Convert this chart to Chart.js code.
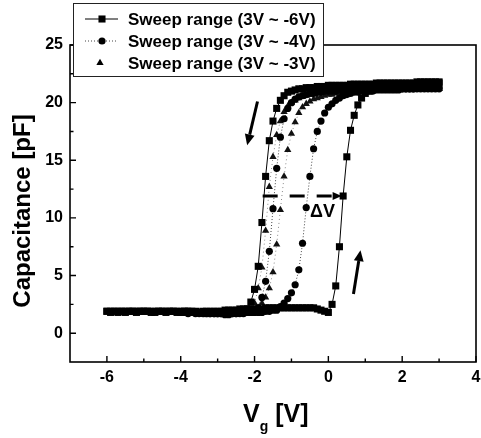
<!DOCTYPE html>
<html>
<head>
<meta charset="utf-8">
<script src="https://cdn.jsdelivr.net/npm/chart.js@4.4.1/dist/chart.umd.min.js"></script>
<style>
  html, body { margin: 0; padding: 0; background: #fff; }
  #wrap { width: 481px; height: 438px; }
</style>
</head>
<body>
<div id="wrap"><canvas id="myChart" width="481" height="438"></canvas></div>
<script>
// gate voltage grid, 0.1 V steps (index 0 = -6.0 V)
var vg = [
  -6.0,-5.9,-5.8,-5.7,-5.6,-5.5,-5.4,-5.3,-5.2,-5.1,
  -5.0,-4.9,-4.8,-4.7,-4.6,-4.5,-4.4,-4.3,-4.2,-4.1,
  -4.0,-3.9,-3.8,-3.7,-3.6,-3.5,-3.4,-3.3,-3.2,-3.1,
  -3.0,-2.9,-2.8,-2.7,-2.6,-2.5,-2.4,-2.3,-2.2,-2.1,
  -2.0,-1.9,-1.8,-1.7,-1.6,-1.5,-1.4,-1.3,-1.2,-1.1,
  -1.0,-0.9,-0.8,-0.7,-0.6,-0.5,-0.4,-0.3,-0.2,-0.1,
   0.0, 0.1, 0.2, 0.3, 0.4, 0.5, 0.6, 0.7, 0.8, 0.9,
   1.0, 1.1, 1.2, 1.3, 1.4, 1.5, 1.6, 1.7, 1.8, 1.9,
   2.0, 2.1, 2.2, 2.3, 2.4, 2.5, 2.6, 2.7, 2.8, 2.9, 3.0
];

// sweep 3V ~ -6V (starts at -6.0 V)
var sqDown = [
  1.9,1.9,1.9,1.8,1.9,1.9,1.9,1.9,1.8,1.9,
  1.9,1.9,1.8,1.9,1.9,1.9,1.8,1.9,1.9,1.9,
  1.8,1.9,1.9,1.8,1.8,1.8,1.8,1.7,1.8,1.8,
  1.7,1.8,1.7,1.7,1.8,1.8,1.8,1.9,2.1,2.7,
  3.8,5.8,9.6,13.6,16.7,18.4,19.5,20.2,20.6,20.9,
  21.0,21.1,21.2,21.2,21.3,21.3,21.3,21.4,21.4,21.4,
  21.5,21.5,21.5,21.5,21.5,21.5,21.6,21.6,21.6,21.6,
  21.6,21.6,21.6,21.7,21.7,21.7,21.7,21.7,21.7,21.7,
  21.7,21.7,21.7,21.7,21.8,21.8,21.8,21.8,21.8,21.8,21.8
];
var sqUp = [
  1.9,1.8,1.9,1.9,1.9,1.8,1.9,1.9,1.9,1.9,
  1.9,1.9,1.9,1.8,1.9,1.9,1.9,1.9,1.9,1.8,
  1.9,1.9,1.9,1.9,1.9,1.8,1.9,1.9,1.9,1.9,
  1.9,1.9,2.0,2.0,2.0,2.0,2.1,2.1,2.1,2.1,
  2.1,2.1,2.1,2.2,2.2,2.2,2.2,2.2,2.2,2.2,
  2.2,2.2,2.2,2.2,2.2,2.2,2.2,2.1,2.0,1.9,
  1.8,2.5,4.1,7.5,11.9,15.3,17.6,18.9,19.8,20.4,
  20.8,21.0,21.1,21.2,21.3,21.3,21.4,21.4,21.5,21.5,
  21.5,21.5,21.6,21.6,21.6,21.6,21.6,21.7,21.7,21.7,21.7
];

// sweep 3V ~ -4V (starts at -4.0 V)
var ciDown = [
  1.8,1.8,1.8,1.8,1.7,1.7,1.8,1.7,1.7,1.7,
  1.7,1.7,1.6,1.7,1.7,1.7,1.8,1.8,1.8,1.8,
  1.9,2.2,3.1,4.5,7.1,10.8,14.3,17.0,18.6,19.5,
  20.0,20.3,20.5,20.6,20.7,20.8,20.8,20.9,20.9,21.0,
  21.0,21.0,21.0,21.1,21.1,21.1,21.1,21.1,21.1,21.2,
  21.2,21.2,21.2,21.2,21.2,21.2,21.2,21.2,21.2,21.2,
  21.2,21.2,21.2,21.2,21.3,21.3,21.3,21.3,21.3,21.3,21.3
];
var ciUp = [
  1.8,1.8,1.7,1.8,1.8,1.8,1.7,1.8,1.7,1.7,
  1.7,1.7,1.7,1.6,1.7,1.7,1.7,1.7,1.8,1.8,
  1.8,1.8,1.8,1.9,1.9,2.0,2.0,2.3,2.6,3.0,
  3.5,4.2,5.5,7.8,10.9,13.6,16.0,17.5,18.4,19.1,
  19.6,19.9,20.2,20.4,20.6,20.7,20.8,20.9,20.9,21.0,
  21.0,21.0,21.0,21.1,21.1,21.1,21.1,21.1,21.1,21.1,
  21.2,21.2,21.2,21.2,21.2,21.2,21.2,21.2,21.2,21.2,21.2
];

// sweep 3V ~ -3V (starts at -3.0 V)
var trDown = [
  1.8,1.8,1.7,1.7,1.7,1.8,1.8,1.8,1.9,2.0,
  2.6,3.9,5.7,8.9,12.7,15.3,17.2,18.4,19.2,19.7,
  20.0,20.2,20.4,20.5,20.6,20.7,20.8,20.8,20.9,20.9,
  21.0,21.0,21.0,21.1,21.1,21.1,21.1,21.1,21.1,21.1,
  21.1,21.1,21.1,21.1,21.1,21.2,21.2,21.2,21.2,21.2,
  21.2,21.2,21.2,21.2,21.2,21.2,21.2,21.2,21.2,21.2,21.2
];
var trUp = [
  1.8,1.8,1.8,1.7,1.8,1.8,1.8,1.9,1.9,1.9,
  2.0,2.2,2.6,3.1,3.9,5.3,7.7,10.7,13.6,15.9,
  17.3,18.3,19.1,19.6,19.9,20.1,20.3,20.4,20.5,20.6,
  20.7,20.7,20.8,20.8,20.9,20.9,20.9,21.0,21.0,21.0,
  21.0,21.0,21.1,21.1,21.1,21.1,21.1,21.1,21.1,21.1,
  21.1,21.1,21.1,21.1,21.2,21.2,21.2,21.2,21.2,21.2,21.2
];

var seriesLabels = ['Sweep range (3V ~ -6V)', 'Sweep range (3V ~ -4V)', 'Sweep range (3V ~ -3V)'];
var xTicks = [-6, -4, -2, 0, 2, 4];
var xMinor = [-5, -3, -1, 1, 3];
var yTicks = [0, 5, 10, 15, 20, 25];
var yMinor = [2.5, 7.5, 12.5, 17.5, 22.5];

// annotation positions (data units)
var dvArrow = { from: [-1.78, 11.9], to: [0.36, 11.9] };
var dvText = { at: [-0.16, 10.5], text: '\u0394V' };
var downArrow = { from: [-1.92, 20.1], to: [-2.2, 16.3] };
var upArrow = { from: [0.68, 3.4], to: [0.87, 7.2] };

function sweep(offset, down, up) {
  var pts = [];
  for (var i = down.length - 1; i >= 0; i--) pts.push({ x: vg[offset + i], y: down[i] });
  for (var j = 0; j < up.length; j++) pts.push({ x: vg[offset + j], y: up[j] });
  return pts;
}

var FONT = '"Liberation Sans", Arial, sans-serif';
var xMax = xTicks[xTicks.length - 1];
var XPAD = 6;

function drawArrow(ctx, x1, y1, x2, y2, lw, head, dash) {
  var ang = Math.atan2(y2 - y1, x2 - x1);
  var bx = x2 - Math.cos(ang) * head, by = y2 - Math.sin(ang) * head;
  ctx.save();
  ctx.strokeStyle = '#000';
  ctx.fillStyle = '#000';
  ctx.lineWidth = lw;
  ctx.setLineDash(dash || []);
  ctx.beginPath();
  ctx.moveTo(x1, y1);
  ctx.lineTo(bx, by);
  ctx.stroke();
  ctx.setLineDash([]);
  ctx.beginPath();
  ctx.moveTo(x2, y2);
  ctx.lineTo(bx + Math.cos(ang + Math.PI / 2) * head * 0.45, by + Math.sin(ang + Math.PI / 2) * head * 0.45);
  ctx.lineTo(bx - Math.cos(ang + Math.PI / 2) * head * 0.45, by - Math.sin(ang + Math.PI / 2) * head * 0.45);
  ctx.closePath();
  ctx.fill();
  ctx.restore();
}

function marker(ctx, style, x, y, r) {
  ctx.beginPath();
  if (style === 'rect') {
    var s = r * Math.SQRT1_2;
    ctx.rect(x - s, y - s, 2 * s, 2 * s);
  } else if (style === 'circle') {
    ctx.arc(x, y, r, 0, Math.PI * 2);
  } else {
    ctx.moveTo(x, y - r);
    ctx.lineTo(x + r * 0.866, y + r * 0.5);
    ctx.lineTo(x - r * 0.866, y + r * 0.5);
    ctx.closePath();
  }
  ctx.fill();
}

var decor = {
  id: 'decor',
  afterDraw: function (chart) {
    var ctx = chart.ctx, a = chart.chartArea;
    var xs = chart.scales.x, ys = chart.scales.y;
    ctx.save();

    // frame
    ctx.strokeStyle = '#000';
    ctx.lineWidth = 1.6;
    ctx.strokeRect(a.left, a.top, a.right - a.left, a.bottom - a.top);

    // inward ticks
    ctx.lineWidth = 1.4;
    ctx.beginPath();
    xTicks.forEach(function (v) { var p = xs.getPixelForValue(v); ctx.moveTo(p, a.bottom); ctx.lineTo(p, a.bottom - 6); });
    xMinor.forEach(function (v) { var p = xs.getPixelForValue(v); ctx.moveTo(p, a.bottom); ctx.lineTo(p, a.bottom - 3.5); });
    yTicks.forEach(function (v) { var p = ys.getPixelForValue(v); ctx.moveTo(a.left, p); ctx.lineTo(a.left + 6, p); });
    yMinor.forEach(function (v) { var p = ys.getPixelForValue(v); ctx.moveTo(a.left, p); ctx.lineTo(a.left + 3.5, p); });
    ctx.stroke();

    // last x label sits on the right edge and is cut by the canvas, as in the figure
    ctx.fillStyle = '#000';
    ctx.font = 'bold 16px ' + FONT;
    ctx.textAlign = 'center';
    ctx.textBaseline = 'middle';
    ctx.fillText(String(xMax), xs.getPixelForValue(xMax), a.bottom + XPAD + 16 * 1.2 / 2);

    // axis titles
    ctx.save();
    ctx.translate(30, 211);
    ctx.rotate(-Math.PI / 2);
    ctx.font = 'bold 24px ' + FONT;
    ctx.textAlign = 'center';
    ctx.textBaseline = 'alphabetic';
    ctx.fillText('Capacitance [pF]', 0, 0);
    ctx.restore();

    ctx.textAlign = 'left';
    ctx.textBaseline = 'alphabetic';
    ctx.font = 'bold 25px ' + FONT;
    var vx = 243;
    ctx.fillText('V', vx, 422);
    vx += ctx.measureText('V').width;
    ctx.font = 'bold 14px ' + FONT;
    ctx.fillText('g', vx, 431);
    vx += ctx.measureText('g').width;
    ctx.font = 'bold 25px ' + FONT;
    ctx.fillText(' [V]', vx, 422);

    // delta V arrow and label
    drawArrow(ctx, xs.getPixelForValue(dvArrow.from[0]), ys.getPixelForValue(dvArrow.from[1]),
      xs.getPixelForValue(dvArrow.to[0]), ys.getPixelForValue(dvArrow.to[1]), 3, 9, [15, 12]);
    ctx.font = 'bold 18px ' + FONT;
    ctx.textAlign = 'center';
    ctx.textBaseline = 'middle';
    ctx.fillText(dvText.text, xs.getPixelForValue(dvText.at[0]), ys.getPixelForValue(dvText.at[1]));

    drawArrow(ctx, xs.getPixelForValue(downArrow.from[0]), ys.getPixelForValue(downArrow.from[1]),
      xs.getPixelForValue(downArrow.to[0]), ys.getPixelForValue(downArrow.to[1]), 3, 11);
    drawArrow(ctx, xs.getPixelForValue(upArrow.from[0]), ys.getPixelForValue(upArrow.from[1]),
      xs.getPixelForValue(upArrow.to[0]), ys.getPixelForValue(upArrow.to[1]), 3, 11);

    // legend box
    ctx.fillStyle = '#fff';
    ctx.fillRect(73, 3, 250, 73);
    ctx.strokeStyle = '#222';
    ctx.lineWidth = 1;
    ctx.strokeRect(73.5, 3.5, 250, 73);
    var rows = [19, 41, 63];
    chart.data.datasets.forEach(function (ds, i) {
      var y = rows[i];
      ctx.strokeStyle = ds.borderColor;
      ctx.lineWidth = 1;
      if (i < 2) {
        ctx.setLineDash(ds.borderDash || []);
        ctx.beginPath();
        ctx.moveTo(85, y);
        ctx.lineTo(118, y);
        ctx.stroke();
        ctx.setLineDash([]);
      }
      ctx.fillStyle = '#000';
      marker(ctx, ds.pointStyle, i === 2 ? 100 : 102, y, ds.pointRadius);
      ctx.font = 'bold 17px ' + FONT;
      ctx.textAlign = 'left';
      ctx.textBaseline = 'middle';
      ctx.fillText(seriesLabels[i], 128, y + 1);
    });
    ctx.restore();
  }
};

var ctx = document.getElementById('myChart');

new Chart(ctx, {
  type: 'scatter',
  data: {
    datasets: [
      {
        label: seriesLabels[0],
        data: sweep(0, sqDown, sqUp),
        showLine: true,
        borderColor: '#000',
        borderWidth: 1,
        pointStyle: 'rect',
        pointRadius: 5,
        pointBackgroundColor: '#000',
        pointBorderWidth: 0
      },
      {
        label: seriesLabels[1],
        data: sweep(20, ciDown, ciUp),
        showLine: true,
        borderColor: '#444',
        borderWidth: 1,
        borderDash: [1, 2],
        pointStyle: 'circle',
        pointRadius: 3.6,
        pointBackgroundColor: '#000',
        pointBorderWidth: 0
      },
      {
        label: seriesLabels[2],
        data: sweep(30, trDown, trUp),
        showLine: true,
        borderColor: '#888',
        borderWidth: 1,
        borderDash: [1, 3],
        pointStyle: 'triangle',
        pointRadius: 4.2,
        pointBackgroundColor: '#111',
        pointBorderWidth: 0
      }
    ]
  },
  options: {
    responsive: false,
    animation: false,
    devicePixelRatio: 1,
    layout: { padding: { top: 45, right: 3, bottom: 0, left: 0 } },
    plugins: { legend: { display: false }, tooltip: { enabled: false } },
    scales: {
      x: {
        type: 'linear',
        min: -7,
        max: xMax,
        grid: { display: false, drawTicks: false },
        border: { display: false },
        // the edge label is drawn by the decor plugin so it doesn't shrink the plot
        afterBuildTicks: function (scale) {
          scale.ticks = xTicks.filter(function (v) { return v < xMax; }).map(function (v) { return { value: v }; });
        },
        afterFit: function (scale) { scale.height = 76; },
        ticks: {
          autoSkip: false,
          maxRotation: 0,
          padding: XPAD,
          color: '#000',
          font: { family: FONT, size: 16, weight: 'bold' }
        }
      },
      y: {
        type: 'linear',
        min: -2.5,
        max: 25,
        grid: { display: false, drawTicks: false },
        border: { display: false },
        afterBuildTicks: function (scale) { scale.ticks = yTicks.map(function (v) { return { value: v }; }); },
        afterFit: function (scale) { scale.width = 70; },
        ticks: {
          autoSkip: false,
          padding: 7,
          color: '#000',
          font: { family: FONT, size: 16, weight: 'bold' }
        }
      }
    }
  },
  plugins: [decor]
});
</script>
</body>
</html>
